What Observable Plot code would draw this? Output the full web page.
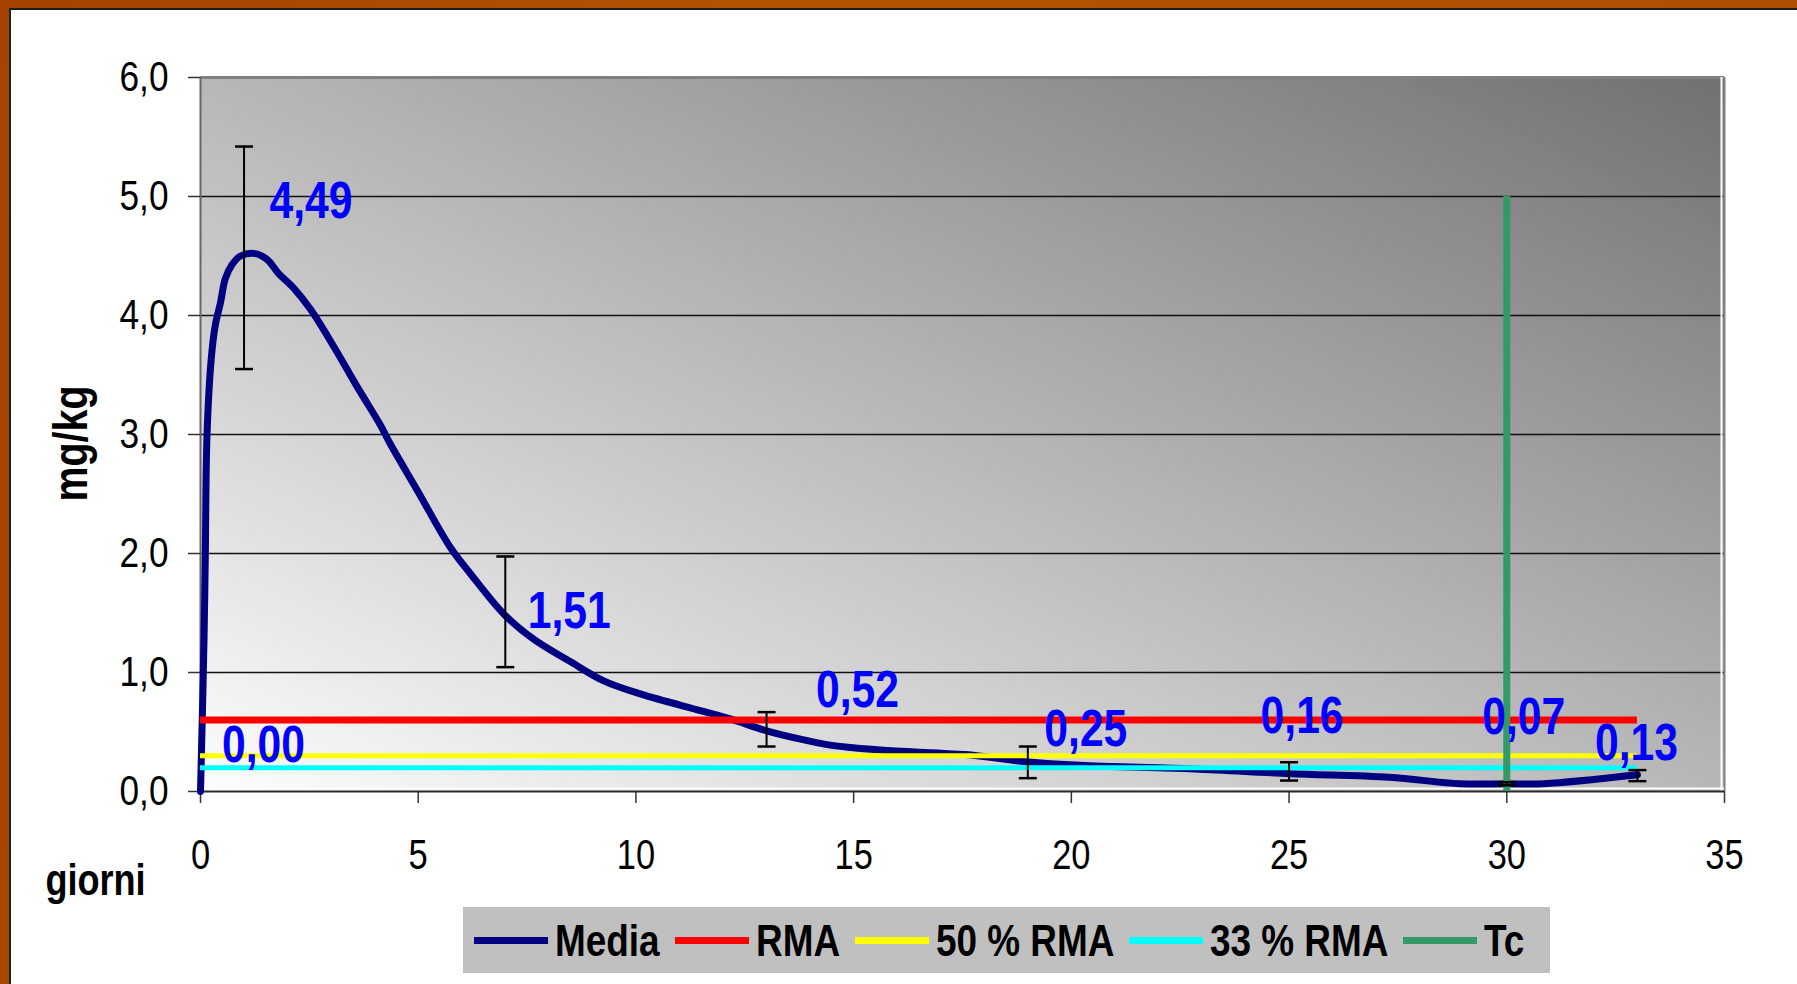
<!DOCTYPE html>
<html>
<head>
<meta charset="utf-8">
<script src="https://cdn.jsdelivr.net/npm/d3@7"></script>
<script src="https://cdn.jsdelivr.net/npm/@observablehq/plot@0.6"></script>
<style>
  html, body { margin: 0; padding: 0; }
  body { width: 1797px; height: 984px; overflow: hidden; position: relative;
         background: linear-gradient(100deg, #a54200 0%, #b65300 40%, #b04d00 100%);
         font-family: 'Liberation Sans', Arial, sans-serif; }
  #panel { position: absolute; left: 9px; top: 8px; right: 0; bottom: 0; background: #fff;
           border-top: 2px solid #1e1e1e; border-left: 2px solid #1e1e1e; }
  #chart { position: absolute; left: 0; top: 0; }
  #legend { position: absolute; left: 463px; top: 907px; width: 1087px; height: 66px;
            background: #c0c0c0; display: flex; align-items: center; box-sizing: border-box;
            padding-left: 11px; font-weight: bold; font-size: 45px; color: #000; white-space: nowrap; overflow: hidden; }
  #legend .sw { display: inline-block; flex: none; width: 74px; height: 7px; margin-right: 7px; }
  #legend .lt { display: inline-block; flex: none; line-height: 1; transform-origin: left center; }
</style>
</head>
<body>
<div id="panel"></div>
<div id="chart"></div>
<div id="legend"></div>
<script>
// ---------------- data ----------------
// Media curve (giorni, mg/kg)
const curveDays = [0, 0.08, 0.11, 0.15, 0.25, 0.34, 0.46, 0.57, 0.73, 0.92, 1.26, 1.53, 1.80, 2.14, 2.53,
  3.06, 3.60, 4.13, 4.36, 4.98, 5.74, 6.20, 6.97, 7.65, 8.50, 9.26, 10.10, 11.48, 12.17, 13.0, 13.78,
  14.46, 14.93, 15.98, 17.56, 18.96, 20.19, 22.83, 25.02, 27.3, 28.93, 30.0, 30.85, 33.0];
const curveValues = [0, 1.26, 1.97, 3.0, 3.65, 3.92, 4.11, 4.31, 4.43, 4.50, 4.52, 4.47, 4.35, 4.23, 4.05,
  3.74, 3.40, 3.08, 2.92, 2.53, 2.05, 1.83, 1.49, 1.28, 1.09, 0.93, 0.82, 0.68, 0.61, 0.51, 0.44,
  0.39, 0.37, 0.34, 0.31, 0.25, 0.22, 0.19, 0.15, 0.12, 0.065, 0.065, 0.065, 0.14];

// labelled sample points
const pointDays = [0, 1, 7, 13, 19, 25, 30, 33];
const pointValues = [0, 4.49, 1.51, 0.52, 0.25, 0.16, 0.07, 0.13];
const pointLabels = ["0,00", "4,49", "1,51", "0,52", "0,25", "0,16", "0,07", "0,13"];

// error bars
const errDays = [1, 7, 13, 19, 25, 30, 33];
const errLow = [3.55, 1.045, 0.378, 0.112, 0.092, 0.052, 0.087];
const errHigh = [5.42, 1.975, 0.667, 0.378, 0.246, 0.078, 0.18];

// reference lines
const limitNames = ["RMA", "50 % RMA", "33 % RMA"];
const limitValues = [0.6, 0.3, 0.2];
const limitEndDay = 33;
const tcDay = 30;
const tcTop = 5.0;

// legend series
const seriesNames = ["Media", "RMA", "50 % RMA", "33 % RMA", "Tc"];
const seriesColors = ["#000080", "#ff0000", "#ffff00", "#00ffff", "#339966"];

// axes
const xTicks = [0, 5, 10, 15, 20, 25, 30, 35];
const yTicks = [0, 1, 2, 3, 4, 5, 6];
const yTickLabels = ["0,0", "1,0", "2,0", "3,0", "4,0", "5,0", "6,0"];
const xTitle = "giorni";
const yTitle = "mg/kg";

// ---------------- styling ----------------
const FONT = "'Liberation Sans', Arial, sans-serif";
const NARROW = 0.82; // the reference uses a condensed face
const limitWidths = [7, 5, 5];
const labelOffsets = [[63, -46], [67, -56], [64, 0], [91, -39], [58, -32], [13, -56], [17, -66], [-1, -33]];

const curve = curveDays.map((d, i) => ({day: d, value: curveValues[i]}));
const points = pointDays.map((d, i) => ({day: d, value: pointValues[i], label: pointLabels[i]}));
const errs = errDays.map((d, i) => ({day: d, lo: errLow[i], hi: errHigh[i]}));
const limits = limitValues.map((v, i) => ({value: v, name: limitNames[i], color: seriesColors[i + 1], w: limitWidths[i]}));

const capSymbol = {
  draw(ctx) { ctx.moveTo(-9, 0); ctx.lineTo(9, 0); }
};

const svg = Plot.plot({
  width: 1797,
  height: 984,
  marginLeft: 200,
  marginRight: 73,
  marginTop: 77,
  marginBottom: 193,
  style: {background: "transparent", fontFamily: FONT, color: "#000", overflow: "visible"},
  x: {domain: [0, 35]},
  y: {domain: [0, 6]},
  marks: [
    Plot.frame({fill: "url(#plotbg)", stroke: null}),
    Plot.gridY(yTicks.slice(1, 6), {stroke: "#111", strokeOpacity: 1, strokeWidth: 1.5}),
    Plot.ruleY([6], {stroke: "#808080", strokeWidth: 3}),
    Plot.ruleX([35], {stroke: "#ffffff", strokeWidth: 2, dx: -3}),
    Plot.ruleX([35], {stroke: "#808080", strokeWidth: 2}),
    Plot.ruleY([0], {stroke: "#ffffff", strokeWidth: 2, dy: -3}),
    Plot.ruleX([0], {stroke: "#666", strokeWidth: 2}),
    Plot.axisX({ticks: xTicks, tickFormat: d => String(d), tickSize: 12, tickPadding: 36,
                fontSize: 42, label: null, strokeWidth: 1.5, stroke: "#333"}),
    Plot.axisY({ticks: yTicks, tickFormat: d => yTickLabels[yTicks.indexOf(d)], tickSize: 12,
                tickPadding: 20, fontSize: 43, label: null, strokeWidth: 1.5, stroke: "#333"}),
    Plot.ruleY([0], {stroke: "#2a2a2a", strokeWidth: 2}),
    Plot.line(curve, {x: "day", y: "value", stroke: seriesColors[0], strokeWidth: 7, curve: "catmull-rom"}),
    ...limits.map(l => Plot.ruleY([l.value], {x1: 0, x2: limitEndDay, stroke: l.color, strokeWidth: l.w})),
    Plot.ruleX([tcDay], {y1: 0, y2: tcTop, stroke: seriesColors[4], strokeWidth: 7}),
    Plot.ruleX(errs, {x: "day", y1: "lo", y2: "hi", stroke: "#000", strokeWidth: 2}),
    Plot.dot(errs, {x: "day", y: "lo", symbol: capSymbol, stroke: "#000", strokeWidth: 2.5, fill: "none"}),
    Plot.dot(errs, {x: "day", y: "hi", symbol: capSymbol, stroke: "#000", strokeWidth: 2.5, fill: "none"}),
    ...points.map((p, i) => Plot.text([p], {x: "day", y: "value", text: "label", fill: "#0000ff",
      fontSize: 52, fontWeight: "bold", dx: labelOffsets[i][0], dy: labelOffsets[i][1]})),
    Plot.text([yTitle], {frameAnchor: "left", dx: -129, dy: 9, rotate: -90, fontSize: 48, fontWeight: "bold",
      textAnchor: "middle", lineAnchor: "middle"}),
    Plot.text([xTitle], {frameAnchor: "bottom-left", dx: -105, dy: 89, fontSize: 44, fontWeight: "bold",
      textAnchor: "middle", lineAnchor: "middle"})
  ]
});

const defs = document.createElementNS("http://www.w3.org/2000/svg", "defs");
defs.innerHTML = '<linearGradient id="plotbg" x1="0" y1="1" x2="1" y2="0">' +
  '<stop offset="0" stop-color="#fdfdfd"/><stop offset="1" stop-color="#717171"/></linearGradient>';
svg.insertBefore(defs, svg.firstChild);
document.getElementById("chart").appendChild(svg);

// condense every text horizontally, keeping its anchor
svg.querySelectorAll("text").forEach(t => {
  const len = t.getComputedTextLength();
  if (len > 0) {
    t.setAttribute("textLength", (len * NARROW).toFixed(1));
    t.setAttribute("lengthAdjust", "spacingAndGlyphs");
  }
});

const legend = document.getElementById("legend");
seriesNames.forEach((name, i) => {
  const sw = document.createElement("span");
  sw.className = "sw";
  sw.style.background = seriesColors[i];
  const lt = document.createElement("span");
  lt.className = "lt";
  lt.textContent = name;
  legend.appendChild(sw);
  legend.appendChild(lt);
  const w = lt.getBoundingClientRect().width;
  lt.style.transform = `scaleX(${NARROW})`;
  lt.style.marginRight = (15 - w * (1 - NARROW)).toFixed(1) + "px";
});
</script>
</body>
</html>
